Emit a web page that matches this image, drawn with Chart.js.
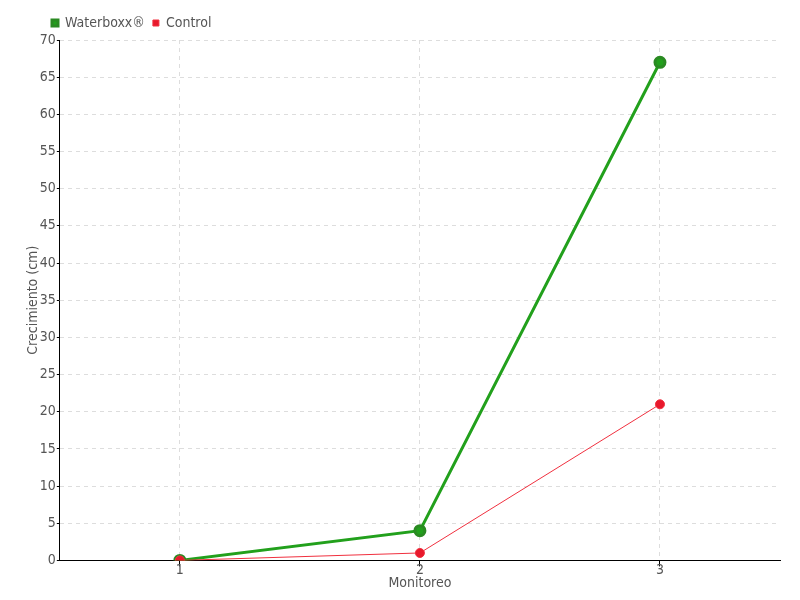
<!DOCTYPE html>
<html>
<head>
<meta charset="utf-8">
<script src="https://cdn.jsdelivr.net/npm/chart.js@4"></script>
<style>
  body { margin: 0; background: #fff; }
  #wrap { width: 800px; height: 600px; }
</style>
</head>
<body>
<div id="wrap"><canvas id="myChart" width="800" height="600"></canvas></div>
<script>
var labels = ["1", "2", "3"];
var waterboxx = [0, 4, 67];
var control = [0, 1, 21];

var fontFam = "'DejaVu Sans Condensed', 'DejaVu Sans', sans-serif";

// nudge the legend right so it sits above the y axis like the original
var shiftLegend = {
  id: 'shiftLegend',
  afterLayout: function(chart) {
    chart.legend.left += 19;
    chart.legend.right += 19;
  }
};

new Chart(document.getElementById("myChart"), {
  type: 'line',
  data: {
    labels: labels,
    datasets: [
      {
        label: "Waterboxx®",
        data: waterboxx,
        borderColor: "#22a01c",
        backgroundColor: "#22a01c",
        pointBorderColor: "#2a8a22",
        borderWidth: 3,
        pointRadius: 5,
        pointHoverRadius: 5,
        tension: 0,
        order: 1
      },
      {
        label: "Control",
        data: control,
        borderColor: "#f0303f",
        backgroundColor: "#e8192c",
        borderWidth: 1,
        pointRadius: 4.5,
        pointHoverRadius: 4.5,
        tension: 0,
        order: 0
      }
    ]
  },
  plugins: [shiftLegend],
  options: {
    responsive: false,
    animation: false,
    layout: { padding: { left: 25, right: 20, top: 8, bottom: 8 } },
    plugins: {
      legend: {
        align: 'start',
        labels: {
          usePointStyle: true,
          pointStyle: 'rect',
          boxWidth: 6,
          boxHeight: 6,
          padding: 8,
          color: '#555',
          font: { family: fontFam, size: 14 },
          sort: function(a, b) { return a.datasetIndex - b.datasetIndex; }
        }
      },
      tooltip: { enabled: false }
    },
    scales: {
      x: {
        offset: true,
        grid: { color: '#dddddd', offset: false, tickColor: '#000', tickLength: 6 },
        border: { color: '#000', dash: [4, 4] },
        ticks: { color: '#555', padding: -4, font: { family: fontFam, size: 14 } },
        title: { display: true, text: 'Monitoreo', color: '#555', padding: 0, font: { family: fontFam, size: 14 } }
      },
      y: {
        min: 0,
        max: 70,
        grid: { color: '#dddddd', tickColor: '#000', tickLength: 3 },
        border: { color: '#000', dash: [4, 4] },
        ticks: { stepSize: 5, color: '#555', padding: 1, font: { family: fontFam, size: 14 } },
        title: { display: true, text: 'Crecimiento (cm)', color: '#555', padding: { top: 0, bottom: -3 }, font: { family: fontFam, size: 14 } }
      }
    }
  }
});
</script>
</body>
</html>
